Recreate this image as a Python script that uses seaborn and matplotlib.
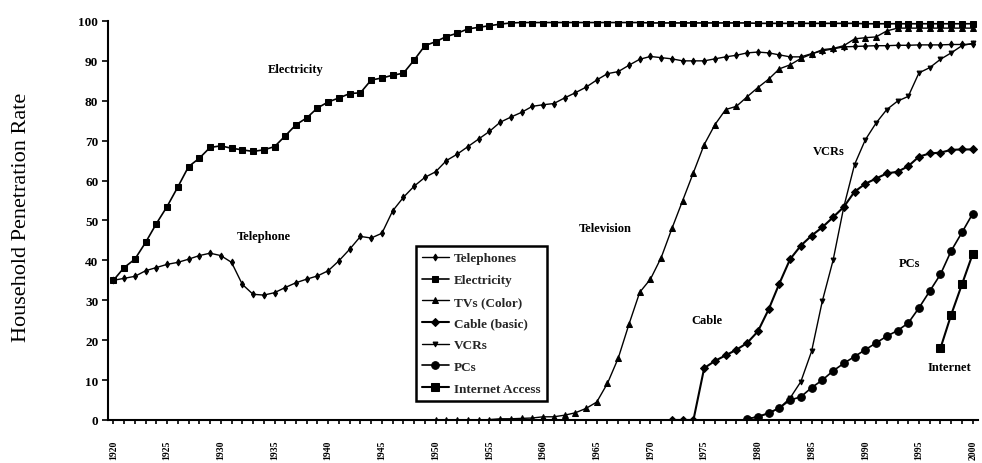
import matplotlib
matplotlib.use("Agg")
import matplotlib.pyplot as plt
import seaborn as sns

# ---------------- data (household penetration, %) ----------------
tel_years = list(range(1920, 2001))
tel_vals = [35, 35.5, 36, 37.4, 38.2, 39, 39.5, 40.3, 41.2, 41.8,
            41.2, 39.5, 34, 31.5, 31.3, 31.9, 33.2, 34.4, 35.3, 36.1,
            37.4, 39.9, 42.8, 46, 45.6, 46.8, 52.4, 55.8, 58.6, 60.8,
            62.2, 65, 66.6, 68.5, 70.4, 72.3, 74.6, 75.9, 77.1, 78.6,
            79, 79.3, 80.7, 82, 83.4, 85.2, 86.8, 87.3, 88.9, 90.4,
            91.1, 90.8, 90.5, 90, 90, 90, 90.5, 91, 91.4, 92,
            92.2, 92, 91.5, 91, 91, 91.8, 92.5, 93, 93.5, 93.6,
            93.7, 93.8, 93.8, 93.9, 93.9, 94, 94, 94, 94.1, 94.1, 94.2]

elec_years = list(range(1920, 2001))
elec_vals = [35, 38.2, 40.3, 44.5, 49.2, 53.5, 58.4, 63.5, 65.6, 68.3,
             68.7, 68.1, 67.7, 67.3, 67.7, 68.5, 71.2, 74, 75.7, 78.2,
             79.7, 80.7, 81.8, 82, 85.2, 85.7, 86.4, 86.9, 90.2, 93.8,
             94.8, 96.1, 96.9, 98, 98.4, 98.8, 99.2, 99.5, 99.6, 99.6,
             99.6, 99.6, 99.6, 99.6, 99.6, 99.6, 99.6, 99.6, 99.6, 99.6,
             99.5, 99.5, 99.5, 99.5, 99.5, 99.5, 99.5, 99.5, 99.5, 99.5,
             99.4, 99.4, 99.4, 99.4, 99.4, 99.4, 99.4, 99.4, 99.4, 99.4,
             99.3, 99.3, 99.3, 99.3, 99.3, 99.3, 99.3, 99.3, 99.3, 99.3, 99.3]

tv_years = list(range(1950, 2001))
tv_vals = [0, 0, 0, 0, 0, 0.1, 0.3, 0.3, 0.4, 0.5,
           0.8, 0.8, 1.2, 1.8, 2.9, 4.5, 9.2, 15.5, 24, 32,
           35.3, 40.7, 48, 55, 62, 69, 74, 77.8, 78.6, 81,
           83.3, 85.4, 88, 89, 90.6, 91.7, 92.8, 93.1, 93.8, 95.5,
           95.8, 96, 97.5, 98.2, 98.2, 98.2, 98.2, 98.2, 98.2, 98.2, 98.2]

cable_years = list(range(1972, 2001))
cable_vals = [0, 0, 0, 13, 14.8, 16.2, 17.6, 19.3, 22.2, 27.7,
              34.2, 40.3, 43.7, 46.2, 48.3, 50.8, 53.4, 57.2, 59.2, 60.5,
              61.8, 62.2, 63.6, 66, 66.8, 67, 67.7, 67.8, 67.8]

vcr_years = list(range(1979, 2001))
vcr_vals = [0.3, 0.8, 1.6, 3, 5.5, 9.6, 17.2, 29.8, 40, 53.4,
            64, 70.2, 74.4, 77.8, 79.9, 81.1, 87, 88.3, 90.4, 92, 93.8, 94.4]

pc_years = list(range(1979, 2001))
pc_vals = [0.3, 0.8, 1.8, 3, 5, 5.8, 8.1, 10, 12.3, 14.2,
           15.9, 17.6, 19.3, 21, 22.4, 24.3, 28.1, 32.3, 36.5, 42.4, 47, 51.7]

net_years = [1997, 1998, 1999, 2000]
net_vals = [18, 26.4, 34, 41.6]

legend_names = ["Telephones", "Electricity", "TVs (Color)", "Cable (basic)",
                "VCRs", "PCs", "Internet Access"]
curve_labels = ["Electricity", "Telephone", "Television", "Cable", "VCRs", "PCs", "Internet"]
curve_label_pos = [(1937.0, 88.0), (1934.0, 46.0), (1965.8, 48.2), (1975.3, 25.0),
                   (1986.6, 67.3), (1994.1, 39.4), (1997.8, 13.2)]

# ---------------- drawing ----------------
sns.set_style("ticks")
plt.rcParams['font.family'] = ['Liberation Serif', 'DejaVu Serif']

fig = plt.figure(figsize=(9.82, 4.64), dpi=100)
ax = fig.add_axes([0.110, 0.0927, 0.886, 0.86])

series = [
    (tel_years, tel_vals, "d", 3.5, 1.0),
    (elec_years, elec_vals, "s", 4.2, 1.2),
    (tv_years, tv_vals, "^", 4.0, 1.0),
    (cable_years, cable_vals, "D", 4.5, 1.5),
    (vcr_years, vcr_vals, "v", 3.5, 1.0),
    (pc_years, pc_vals, "o", 5.5, 1.2),
    (net_years, net_vals, "s", 5.5, 1.5),
]
for (xs, ys, mk, ms, lw), name in zip(series, legend_names):
    sns.lineplot(x=xs, y=ys, ax=ax, color="black", marker=mk, markersize=ms,
                 markeredgecolor="black", markerfacecolor="black",
                 linewidth=lw, label=name, sort=False)

ax.set_xlim(1919.5, 2000.5)
ax.set_ylim(0, 100)

years_all = list(range(1920, 2001))
ax.set_xticks(years_all)
ax.set_xticklabels([str(y) if y % 5 == 0 else "" for y in years_all],
                   rotation=90, fontsize=7, fontweight="bold")
ax.set_yticks(range(0, 101, 10))
ax.set_yticklabels([str(v) for v in range(0, 101, 10)], fontsize=9.5, fontweight="bold")
ax.tick_params(axis="x", direction="out", length=3, width=1.2, pad=11, colors="black")
ax.tick_params(axis="y", direction="out", length=4, width=1.2, pad=3, colors="black")

for side in ["top", "right"]:
    ax.spines[side].set_visible(False)
for side in ["left", "bottom"]:
    ax.spines[side].set_linewidth(1.5)
    ax.spines[side].set_color("black")

ax.set_xlabel("")
ax.set_ylabel("Household Penetration Rate", fontsize=16, color="black")
ax.yaxis.set_label_coords(-0.089, 0.51)

for txt, (lx, ly) in zip(curve_labels, curve_label_pos):
    ax.text(lx, ly, txt, ha="center", va="center", fontsize=9, fontweight="bold",
            color="black")

leg = ax.legend(loc="lower left", bbox_to_anchor=(0.346, 0.03),
                frameon=True, fancybox=False, shadow=False, handlelength=2.0,
                labelspacing=0.72, borderpad=0.5, handletextpad=0.4,
                prop={"weight": "bold", "size": 9.5})
leg.get_frame().set_edgecolor("black")
leg.get_frame().set_linewidth(1.8)
leg.get_frame().set_facecolor("white")
leg.get_frame().set_alpha(1.0)

fig.savefig("out.png", dpi=100, facecolor="white")
